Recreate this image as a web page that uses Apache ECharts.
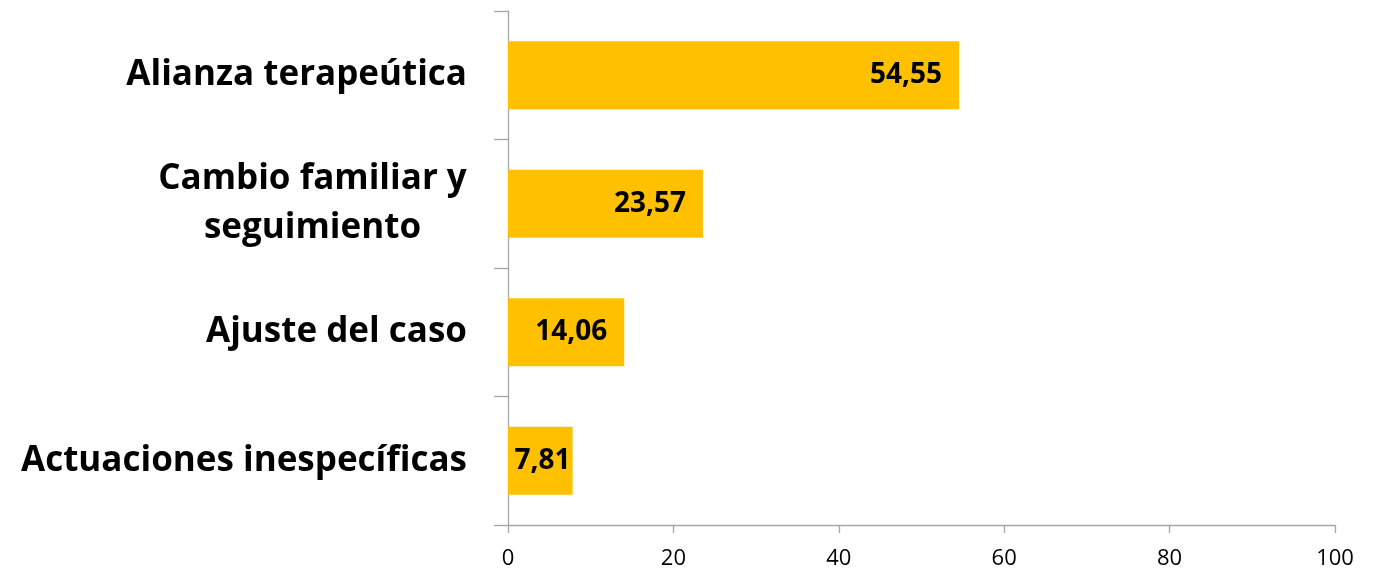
<!DOCTYPE html>
<html>
<head>
<meta charset="utf-8">
<script src="https://cdn.jsdelivr.net/npm/echarts@6/dist/echarts.min.js"></script>
<style>
html,body{margin:0;padding:0;background:#fff;}
#chart{width:1379px;height:570px;}
</style>
</head>
<body>
<div id="chart"></div>
<script>
const categories = ["Alianza terapeútica", "Cambio familiar y\nseguimiento", "Ajuste del caso", "Actuaciones inespecíficas"];
const values = [54.55, 23.57, 14.06, 7.81];
const xTicks = [0, 20, 40, 60, 80, 100];

const labelDistances = [17, 17, 17, 2];

const chart = echarts.init(document.getElementById('chart'));
const axisColor = '#a6a6a6';
chart.setOption({
  animation: false,
  backgroundColor: '#ffffff',
  grid: { left: 508, right: 44, top: 11, bottom: 45, containLabel: false },
  xAxis: {
    type: 'value',
    min: xTicks[0],
    max: xTicks[xTicks.length - 1],
    interval: xTicks[1] - xTicks[0],
    splitLine: { show: false },
    axisLine: { show: true, lineStyle: { color: axisColor, width: 1.3 } },
    axisTick: { show: true, length: 8, lineStyle: { color: axisColor, width: 1.3 } },
    axisLabel: {
      margin: 23,
      color: '#000',
      fontFamily: 'Open Sans',
      fontSize: 22,
      formatter: v => String(v)
    }
  },
  yAxis: {
    type: 'category',
    inverse: true,
    data: categories,
    axisLine: { show: true, lineStyle: { color: axisColor, width: 1.3 } },
    axisTick: { show: true, length: 14, lineStyle: { color: axisColor, width: 1.3 } },
    axisLabel: {
      margin: 41,
      color: '#000',
      fontFamily: 'Open Sans',
      fontWeight: 'bold',
      fontSize: 35,
      lineHeight: 49,
      formatter: function (v) {
        if (v.indexOf('\n') >= 0) {
          return v.split('\n').map(s => '{c|' + s + '}').join('\n');
        }
        return v;
      },
      rich: {
        c: {
          width: 309,
          align: 'center',
          fontFamily: 'Open Sans',
          fontWeight: 'bold',
          fontSize: 35,
          lineHeight: 49,
          color: '#000'
        }
      }
    }
  },
  series: [{
    type: 'bar',
    data: values.map((v, i) => ({
      value: v,
      label: { distance: labelDistances[i] }
    })),
    barCategoryGap: '47%',
    itemStyle: { color: '#FFC000' },
    label: {
      show: true,
      position: 'insideRight',
      color: '#000',
      fontFamily: 'Open Sans',
      fontWeight: 'bold',
      fontSize: 28,
      formatter: p => p.value.toFixed(2).replace('.', ',')
    }
  }]
});
</script>
</body>
</html>
